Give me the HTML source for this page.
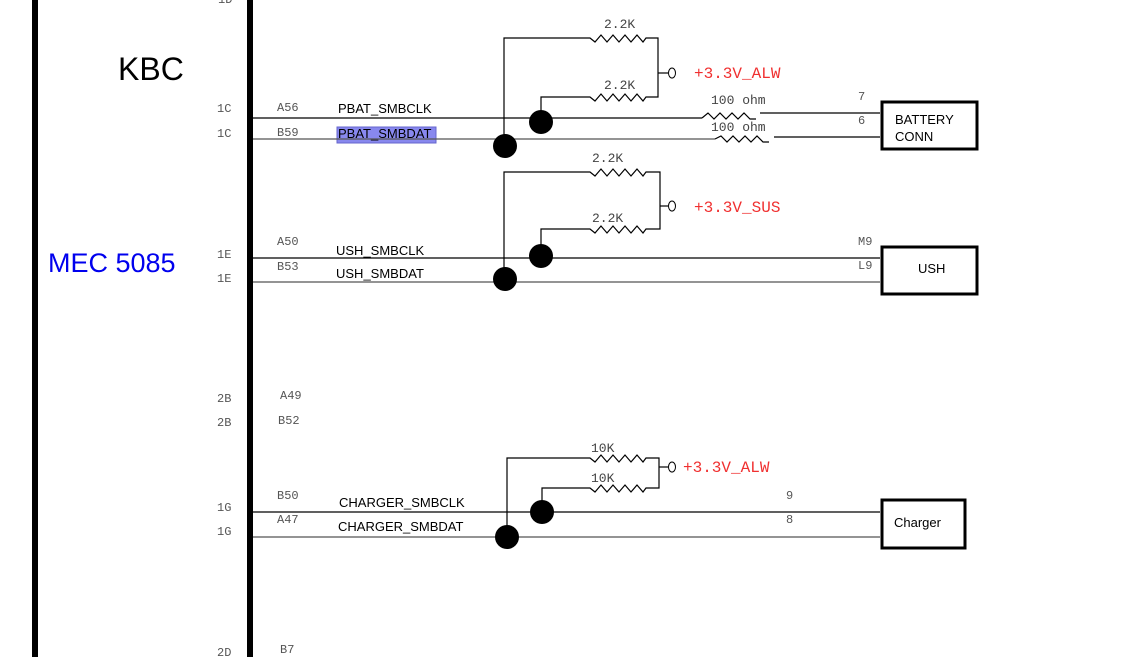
<!DOCTYPE html>
<html><head><meta charset="utf-8"><style>
html,body{margin:0;padding:0;background:#fff;}
svg{display:block;}
.m{font-family:"Liberation Mono",monospace;font-size:12px;fill:#555;}
.n{font-family:"Liberation Sans",sans-serif;font-size:13px;fill:#000;}
.r{font-family:"Liberation Mono",monospace;font-size:13px;fill:#444;}
.v{font-family:"Liberation Mono",monospace;font-size:16px;fill:#f03030;}
.w{stroke:#000;stroke-width:1.2;fill:none;}
.g{stroke:#555;stroke-width:1.2;fill:none;}
</style></head><body>
<svg width="1137" height="657" viewBox="0 0 1137 657" xmlns="http://www.w3.org/2000/svg">
<rect x="32" y="0" width="6" height="657" fill="#000"/>
<rect x="247" y="0" width="6" height="657" fill="#000"/>
<text x="118" y="80" font-family="Liberation Sans,sans-serif" font-size="32">KBC</text>
<text x="48" y="272" font-family="Liberation Sans,sans-serif" font-size="27" fill="#0000ee">MEC 5085</text>
<text x="218" y="3" class="m">1D</text>

<!-- Section 1 -->
<text x="217" y="112" class="m">1C</text><text x="217" y="137" class="m">1C</text>
<text x="277" y="111" class="m">A56</text><text x="277" y="136" class="m">B59</text>
<rect x="337" y="127" width="99" height="16" fill="#8888ee" stroke="#6666cc"/>
<text x="338" y="113" class="n">PBAT_SMBCLK</text>
<text x="338" y="138" class="n" fill="#000080">PBAT_SMBDAT</text>
<path class="w" d="M253 118 H702"/>
<path class="w" d="M702 118 l6 -5 l6 6 l6 -6 l6 6 l6 -6 l6 6 l6 -6 l6 6 h6 M760 113 H880"/>
<path class="g" d="M253 139 H715"/>
<path class="w" d="M715 139 l6 -3 l6 6 l6 -6 l6 6 l6 -6 l6 6 l6 -6 l6 6 h6 M774 137 H880"/>
<text x="711" y="104" class="r">100 ohm</text><text x="711" y="131" class="r">100 ohm</text>
<text x="858" y="100" class="m">7</text><text x="858" y="124" class="m">6</text>
<rect x="882" y="102" width="95" height="47" fill="none" stroke="#000" stroke-width="3"/>
<text x="895" y="124" class="n" font-size="15">BATTERY</text><text x="895" y="141" class="n" font-size="15">CONN</text>
<path class="w" d="M504 146 V38 H590 l5 4 l6 -7 l6 7 l6 -7 l6 7 l6 -7 l6 7 l6 -7 l6 7 l3 -4 H658 V97 H646 l-3 4 l-6 -7 l-6 7 l-6 -7 l-6 7 l-6 -7 l-6 7 l-6 -7 l-6 7 l-5 -4 H541 V122"/>
<circle cx="541" cy="122" r="12" fill="#000"/><circle cx="505" cy="146" r="12" fill="#000"/>
<path class="w" d="M658 73 H668"/><ellipse cx="672" cy="73" rx="3.5" ry="5" fill="none" stroke="#000"/>
<text x="604" y="28" class="r">2.2K</text><text x="604" y="89" class="r">2.2K</text>
<text x="694" y="78" class="v">+3.3V_ALW</text>

<!-- Section 2 -->
<text x="217" y="258" class="m">1E</text><text x="217" y="282" class="m">1E</text>
<text x="277" y="245" class="m">A50</text><text x="277" y="270" class="m">B53</text>
<text x="336" y="255" class="n">USH_SMBCLK</text><text x="336" y="278" class="n">USH_SMBDAT</text>
<path class="w" d="M253 258 H880"/><path class="g" d="M253 282 H880"/>
<text x="858" y="245" class="m">M9</text><text x="858" y="269" class="m">L9</text>
<rect x="882" y="247" width="95" height="47" fill="none" stroke="#000" stroke-width="3"/>
<text x="918" y="273" class="n" font-size="15">USH</text>
<path class="w" d="M504 279 V172 H590 l5 4 l6 -7 l6 7 l6 -7 l6 7 l6 -7 l6 7 l6 -7 l6 7 l3 -4 H660 V229 H646 l-3 4 l-6 -7 l-6 7 l-6 -7 l-6 7 l-6 -7 l-6 7 l-6 -7 l-6 7 l-5 -4 H541 V256"/>
<circle cx="541" cy="256" r="12" fill="#000"/><circle cx="505" cy="279" r="12" fill="#000"/>
<path class="w" d="M660 206 H668"/><ellipse cx="672" cy="206" rx="3.5" ry="5" fill="none" stroke="#000"/>
<text x="592" y="162" class="r">2.2K</text><text x="592" y="222" class="r">2.2K</text>
<text x="694" y="212" class="v">+3.3V_SUS</text>

<!-- Section 3 -->
<text x="217" y="402" class="m">2B</text><text x="217" y="426" class="m">2B</text>
<text x="280" y="399" class="m">A49</text><text x="278" y="424" class="m">B52</text>

<!-- Section 4 -->
<text x="217" y="511" class="m">1G</text><text x="217" y="535" class="m">1G</text>
<text x="277" y="499" class="m">B50</text><text x="277" y="523" class="m">A47</text>
<text x="339" y="507" class="n">CHARGER_SMBCLK</text><text x="338" y="531" class="n">CHARGER_SMBDAT</text>
<path class="w" d="M253 512 H880"/><path class="g" d="M253 537 H880"/>
<text x="786" y="499" class="m">9</text><text x="786" y="523" class="m">8</text>
<rect x="882" y="500" width="83" height="48" fill="none" stroke="#000" stroke-width="3"/>
<text x="894" y="527" class="n" font-size="15">Charger</text>
<path class="w" d="M507 537 V458 H590 l5 4 l6 -7 l6 7 l6 -7 l6 7 l6 -7 l6 7 l6 -7 l6 7 l3 -4 H659 V488 H646 l-3 4 l-6 -7 l-6 7 l-6 -7 l-6 7 l-6 -7 l-6 7 l-6 -7 l-6 7 l-5 -4 H542 V512"/>
<circle cx="542" cy="512" r="12" fill="#000"/><circle cx="507" cy="537" r="12" fill="#000"/>
<path class="w" d="M659 467 H668"/><ellipse cx="672" cy="467" rx="3.5" ry="5" fill="none" stroke="#000"/>
<text x="591" y="452" class="r">10K</text><text x="591" y="482" class="r">10K</text>
<text x="683" y="472" class="v">+3.3V_ALW</text>

<text x="217" y="656" class="m">2D</text><text x="280" y="653" class="m">B7</text>
</svg>
</body></html>
